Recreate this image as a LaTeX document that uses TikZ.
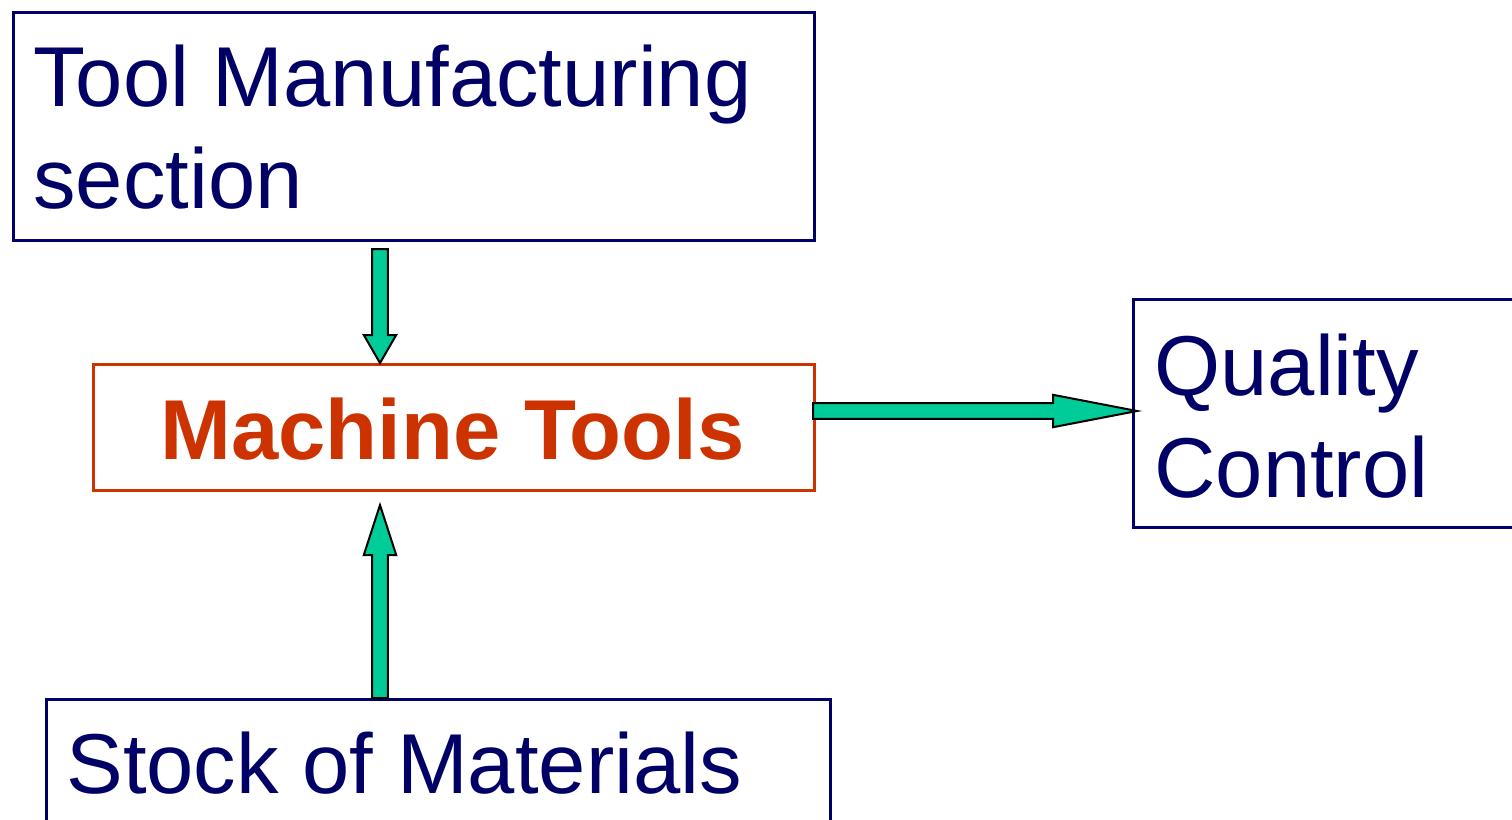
\documentclass[tikz,border=0pt]{standalone}
\usepackage{fontspec}
\setmainfont{Liberation Sans}
\usetikzlibrary{calc}
\definecolor{navy}{RGB}{0,0,102}
\definecolor{rust}{RGB}{204,51,0}
\definecolor{arrowfill}{RGB}{0,204,153}
\begin{document}
\begin{tikzpicture}[x=0.5pt,y=-0.5pt,
  box/.style={draw=navy, line width=1.5pt, rectangle, inner sep=0pt, anchor=north west},
  lbl/.style={anchor=base west, inner sep=0pt, text=navy, font=\fontsize{42.5}{51}\selectfont},
  fat/.style={draw=black, line width=1pt, fill=arrowfill, line join=miter, to path={
    ($(\tikztostart)!3.9pt!90:(\tikztotarget)$)
    -- ($($(\tikztotarget)!#1!(\tikztostart)$)!3.9pt!-90:(\tikztostart)$)
    -- ($($(\tikztotarget)!#1!(\tikztostart)$)!8.1pt!-90:(\tikztostart)$)
    -- (\tikztotarget)
    -- ($($(\tikztotarget)!#1!(\tikztostart)$)!8.1pt!90:(\tikztostart)$)
    -- ($($(\tikztotarget)!#1!(\tikztostart)$)!3.9pt!90:(\tikztostart)$)
    -- ($(\tikztostart)!3.9pt!-90:(\tikztotarget)$)
    -- cycle}}]
\useasboundingbox (0,0) rectangle (1512,820);
\clip (0,0) rectangle (1512,820);
% boxes
\node[box, minimum width=400.5pt, minimum height=114pt] (tm) at (12,11) {};
\node[lbl] (tmt1) at (33,106) {Tool Manufacturing};
\node[lbl] (tmt2) at (33,208) {section};
\node[box, draw=rust, line width=1.25pt, minimum width=360.5pt, minimum height=63pt] (mt) at (92,363) {};
\node[anchor=base, inner sep=0pt, text=rust, font=\fontsize{42.5}{51}\selectfont\bfseries] (mtt) at (452.5,459) {Machine Tools};
\node[box, minimum width=214pt, minimum height=114pt] (qc) at (1132,298) {};
\node[lbl] (qct1) at (1154,395) {Quality};
\node[lbl] (qct2) at (1154,497) {Control};
\node[box, minimum width=392pt, minimum height=101pt] (sm) at (45,698) {};
\node[lbl] (smt) at (66,793) {Stock of Materials};
% arrows
\coordinate (a1s) at (380,249);
\coordinate (a1e) at (a1s |- mt.north);
\coordinate (a2s) at (a1s |- sm.north);
\coordinate (a2e) at (380,505);
\coordinate (a3s) at (813,411);
\coordinate (a3e) at (1137,411);
\draw[fat=14pt] (a1s) to (a1e);
\draw[fat=25pt] (a2s) to (a2e);
\draw[fat=42pt] (a3s) to (a3e);
\end{tikzpicture}
\end{document}
